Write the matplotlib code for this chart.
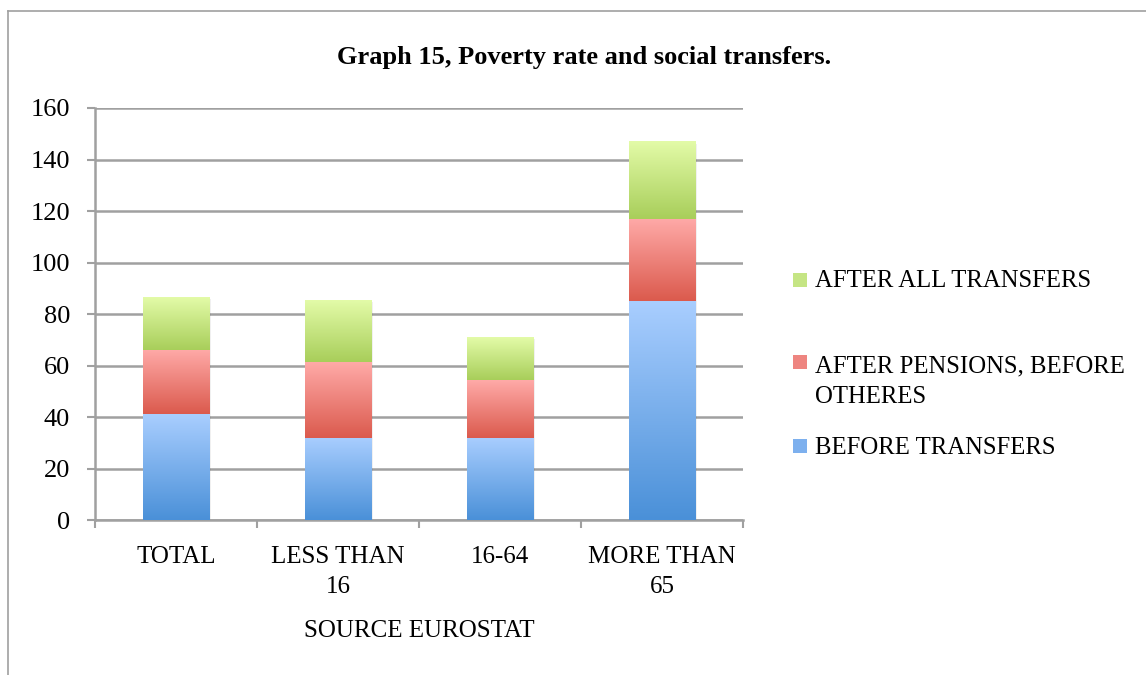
import matplotlib
matplotlib.use("Agg")
import matplotlib.pyplot as plt
import numpy as np
from matplotlib.colors import LinearSegmentedColormap
from matplotlib.lines import Line2D
from matplotlib.patches import Rectangle

# data
categories = ["TOTAL", "LESS THAN\n16", "16-64", "MORE THAN\n65"]
before_transfers = [41, 32, 32, 85]
after_pensions = [25, 29.5, 22.5, 32]
after_all = [20.5, 24, 16.5, 30]
series_names = ["BEFORE TRANSFERS", "AFTER PENSIONS, BEFORE\nOTHERES", "AFTER ALL TRANSFERS"]
yticks = [0, 20, 40, 60, 80, 100, 120, 140, 160]

# gradient colours (top, bottom)
grads = [("#A9CEFF", "#4A90D8"), ("#FFAAA8", "#DB5A4D"), ("#E3FBA8", "#A8CE5A")]
mids = ["#7DB0EE", "#EE8580", "#C5E584"]

plt.rcParams["font.family"] = ["Liberation Serif", "DejaVu Serif"]

fig = plt.figure(figsize=(11.46, 6.75), dpi=100)
ax = fig.add_axes([0.083, 0.2296, 0.5654, 0.6104])

x = np.arange(len(categories))
width = 0.41
bottoms = np.zeros(len(categories))
for vals, (top_c, bot_c) in zip([before_transfers, after_pensions, after_all], grads):
    cmap = LinearSegmentedColormap.from_list("g", [bot_c, top_c])
    grad = np.linspace(0, 1, 256).reshape(-1, 1)
    for xi, b, v in zip(x, bottoms, vals):
        # soft shadow
        ax.add_patch(Rectangle((xi - width / 2 + 0.012, b - 0.8), width, v, facecolor="#000000",
                               alpha=0.06, edgecolor="none", zorder=2))
        ax.imshow(grad, extent=[xi - width / 2, xi + width / 2, b, b + v], origin="lower",
                  aspect="auto", cmap=cmap, zorder=3, interpolation="bilinear")
    bottoms += np.array(vals)

ax.set_xlim(-0.5, len(categories) - 0.5)
ax.set_ylim(0, 160)
ax.set_yticks(yticks)
ax.set_xticks(x)
ax.set_xticklabels(categories, fontsize=18, linespacing=1.45)
ax.tick_params(axis="y", labelsize=19, length=6, width=1.5, color="#A0A0A0", pad=12)
ax.tick_params(axis="x", length=0, pad=19)
# category separator ticks on x axis
ax.set_xticks(np.arange(-0.5, len(categories)), minor=True)
ax.tick_params(axis="x", which="minor", length=6, width=1.5, color="#A0A0A0")
ax.grid(axis="y", color="#A0A0A0", linewidth=1.8, zorder=1)
ax.set_axisbelow(True)
for s in ["top", "right"]:
    ax.spines[s].set_visible(False)
for s in ["left", "bottom"]:
    ax.spines[s].set_color("#A0A0A0")
    ax.spines[s].set_linewidth(1.8)
ax.set_xlabel("SOURCE EUROSTAT", fontsize=18, labelpad=16)

fig.text(0.51, 0.915, "Graph 15, Poverty rate and social transfers.", ha="center", va="center",
         fontsize=19, fontweight="bold")

# legend, placed by hand to follow the original spacing
leg_text_y = [448, 381.5, 281]
leg_box_y = [446, 362, 280]
for name, c, ty, by in zip(series_names, mids, leg_text_y, leg_box_y):
    fig.add_artist(Rectangle((793 / 1146, 1 - (by + 7) / 675), 14 / 1146, 14 / 675, facecolor=c,
                             edgecolor="none", transform=fig.transFigure))
    fig.text(815 / 1146, 1 - ty / 675, name, ha="left", va="center", fontsize=17.8,
             linespacing=1.5)

# outer frame
fig.add_artist(Line2D([8 / 1146, 8 / 1146], [0, 1 - 11 / 675], color="#A0A0A0", lw=1.2,
                      transform=fig.transFigure))
fig.add_artist(Line2D([8 / 1146, 1], [1 - 11 / 675, 1 - 11 / 675], color="#A0A0A0", lw=1.2,
                      transform=fig.transFigure))

plt.savefig("out.png", dpi=100)
